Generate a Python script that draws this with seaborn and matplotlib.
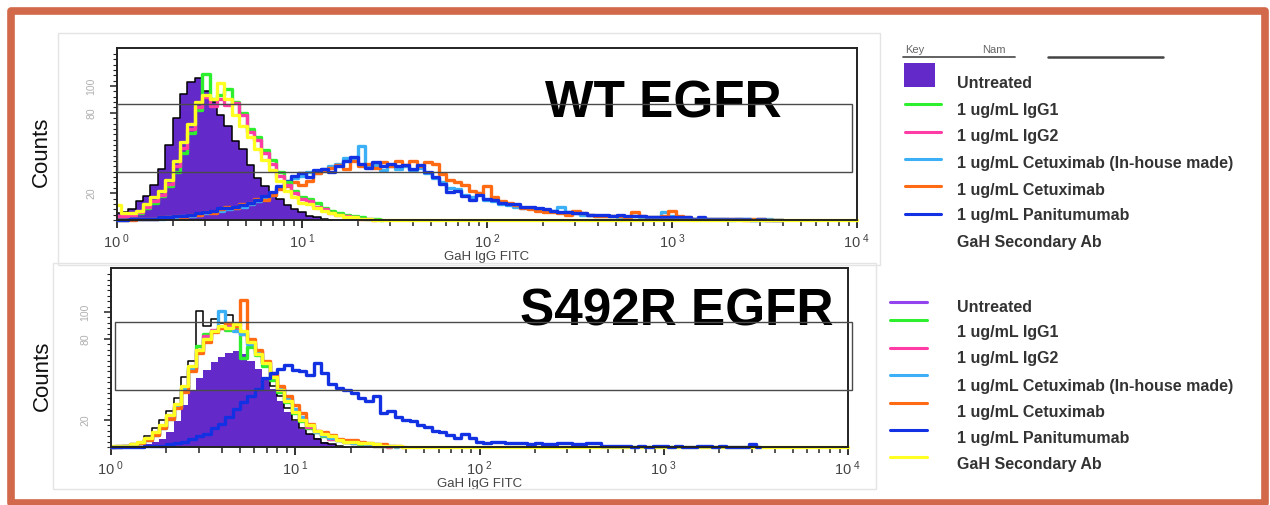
import numpy as np
import matplotlib
matplotlib.use("Agg")
import matplotlib.pyplot as plt
import seaborn as sns
from matplotlib.patches import Rectangle
from matplotlib.lines import Line2D
from matplotlib.ticker import FixedLocator, FixedFormatter, NullFormatter

# ---------------- data (counts per FITC channel, channels every 0.04 decade from 10^0) -------------
channel_step = 0.04
legend_labels = ["Untreated", "1 ug/mL IgG1", "1 ug/mL IgG2",
                 "1 ug/mL Cetuximab (In-house made)", "1 ug/mL Cetuximab",
                 "1 ug/mL Panitumumab", "GaH Secondary Ab"]
panel_titles = ["WT EGFR", "S492R EGFR"]
x_tick_labels = ["0", "1", "2", "3", "4"]
y_tick_values = [20, 80, 100]

# ----- WT EGFR panel -----
wt_untreated = [5, 6, 8, 14, 18, 26, 38, 56, 76, 94, 103, 106, 96, 88, 78, 70, 59, 53, 41, 31,
                25, 21, 16, 11, 8, 6, 3, 2, 1, 0]
wt_igg1 = [3, 3, 4, 5, 9, 13, 18, 25, 36, 50, 65, 82, 109, 90, 93, 98, 88, 80, 68, 62,
           52, 45, 36, 28, 22, 17, 16, 13, 9, 7, 5, 4, 3, 2, 1, 1, 0]
wt_igg2 = [3, 3, 4, 6, 10, 14, 19, 27, 40, 54, 68, 84, 92, 85, 90, 86, 87, 78, 66, 60,
           50, 42, 33, 26, 20, 16, 14, 10, 8, 5, 4, 3, 2, 1, 1, 0]
wt_cetux_inhouse = [0, 0, 1, 1, 1, 1, 1, 2, 2, 3,
                    3, 4, 5, 6, 7, 8, 9, 10, 12, 14,
                    16, 19, 24, 28, 31, 33, 36, 35, 38, 40,
                    42, 46, 46, 55, 40, 41, 37, 40, 38, 40,
                    37, 39, 35, 31, 28, 24, 23, 19, 17, 20,
                    15, 14, 12, 11, 10, 9, 9, 8, 7, 7,
                    10, 6, 5, 4, 4, 3, 3, 3, 2, 2,
                    3, 2, 2, 2, 6, 3, 2, 1, 1, 1,
                    1, 1, 1, 0, 1, 1, 0, 0, 1, 0, 0]
wt_cetux = [0, 0, 0, 1, 1, 1, 2, 2, 3, 2,
            4, 4, 6, 5, 8, 10, 9, 12, 13, 16,
            15, 19, 23, 25, 28, 26, 29, 35, 37, 39,
            41, 38, 44, 40, 42, 39, 43, 40, 44, 41,
            44, 40, 43, 42, 34, 30, 28, 26, 22, 20,
            25, 17, 14, 13, 11, 9, 8, 7, 6, 6,
            5, 4, 7, 5, 4, 3, 3, 3, 3, 2,
            6, 3, 2, 2, 3, 7, 3, 2, 1, 1,
            1, 1, 1, 1, 1, 0, 1, 1, 0, 0, 0]
wt_panitumumab = [0, 0, 1, 1, 1, 1, 2, 2, 3, 3,
                  4, 5, 6, 7, 9, 9, 10, 11, 13, 15,
                  18, 21, 25, 29, 33, 35, 32, 37, 38, 36,
                  40, 44, 47, 42, 39, 43, 40, 42, 40, 41,
                  38, 41, 36, 32, 27, 21, 22, 18, 15, 19,
                  16, 15, 13, 12, 12, 10, 10, 9, 8, 7,
                  6, 6, 5, 5, 4, 4, 4, 3, 4, 3,
                  3, 3, 2, 2, 2, 2, 2, 2, 1, 2,
                  1, 1, 1, 1, 1, 1, 0, 1, 0, 0, 0]
wt_secondary = [11, 5, 5, 7, 12, 17, 22, 30, 44, 58, 72, 88, 93, 90, 102, 90, 78, 70, 62, 53,
                45, 37, 29, 22, 17, 13, 12, 9, 7, 5, 4, 2, 2, 1, 1, 0, 0, 0, 0, 0,
                0, 0, 0, 0, 0, 0, 0, 0, 0, 0, 0, 0, 0, 0, 0, 0, 0, 0, 0, 0,
                0, 0, 0, 0, 0, 0, 0, 0, 0, 0, 0, 0, 0, 0, 0, 0, 0, 0, 0, 0,
                0, 0, 0, 0, 0, 0, 0, 0, 0, 0, 0, 0, 0, 0, 0, 0, 0, 0, 0, 0, 0]

# ----- S492R EGFR panel -----
mut_untreated = [0, 0, 0, 0, 1, 2, 4, 6, 11, 19, 31, 42, 51, 57, 63, 67, 70, 71, 69, 64,
                 58, 52, 43, 34, 26, 19, 13, 10, 7, 4, 2, 1, 0]
mut_outline = [0, 0, 0, 1, 3, 8, 14, 20, 27, 36, 52, 64, 101, 90, 95, 92, 98, 90, 85, 76,
               68, 61, 45, 38, 29, 20, 14, 10, 6, 3, 2, 1, 0]
mut_igg1 = [0, 1, 1, 2, 3, 6, 10, 15, 22, 30, 44, 59, 75, 84, 86, 89, 87, 88, 66, 74,
            68, 60, 50, 41, 33, 25, 19, 14, 11, 8, 6, 5, 4, 3, 2, 2, 1, 1, 0]
mut_igg2 = [0, 1, 1, 2, 3, 6, 10, 15, 22, 31, 44, 58, 72, 82, 87, 88, 90, 87, 84, 78,
            71, 63, 53, 44, 35, 27, 21, 15, 12, 9, 6, 5, 4, 3, 3, 2, 1, 1, 0]
mut_cetux_inhouse = [0, 0, 1, 1, 3, 5, 9, 14, 21, 30, 43, 58, 71, 80, 86, 101, 88, 86, 84, 76,
                     70, 62, 52, 43, 36, 28, 22, 16, 11, 9, 7, 5, 4, 3, 3, 2, 2, 1, 1, 0]
mut_cetux = [0, 0, 1, 1, 3, 5, 9, 14, 21, 29, 41, 56, 70, 78, 85, 88, 92, 90, 109, 80,
             72, 64, 55, 45, 38, 31, 25, 17, 12, 11, 9, 6, 5, 5, 4, 3, 2, 2, 1, 1, 0]
mut_panitumumab = [0, 0, 0, 0, 0, 1, 1, 1, 2, 3,
                   4, 6, 8, 10, 14, 17, 22, 28, 33, 38,
                   43, 51, 55, 58, 61, 57, 56, 53, 62, 55,
                   47, 44, 42, 40, 36, 34, 38, 25, 27, 22,
                   20, 19, 16, 15, 12, 11, 9, 7, 10, 7,
                   4, 3, 4, 4, 3, 3, 3, 2, 3, 2,
                   2, 3, 3, 2, 2, 3, 3, 1, 1, 1,
                   1, 0, 1, 0, 1, 1, 0, 1, 0, 0,
                   1, 1, 0, 1, 0, 0, 0, 2, 0]
mut_secondary = [1, 1, 1, 2, 4, 7, 11, 16, 24, 32, 45, 60, 72, 80, 86, 90, 88, 91, 86, 78,
                 69, 62, 52, 42, 34, 26, 20, 16, 12, 10, 8, 5, 4, 4, 3, 3, 2, 1, 1, 1,
                 0, 0, 0, 0, 0, 0, 0, 0, 0, 0, 0, 0, 0, 0, 0, 0, 0, 0, 0, 0,
                 0, 0, 0, 0, 0, 0, 0, 0, 0, 0, 0, 0, 0, 0, 0, 0, 0, 0, 0, 0,
                 0, 0, 0, 0, 0, 0, 0, 0, 0, 0, 0, 0, 0, 0, 0, 0, 0, 0, 0, 0, 0]

# ---------------- style ----------------
PURPLE = "#6429C9"
PURPLE_LINE = "#9444EE"
GREEN = "#2EEF2E"
PINK = "#FF3CA6"
CYAN = "#3BB0F7"
ORANGE = "#FF6A12"
BLUE = "#1131E2"
YELLOW = "#FFFF22"
BORDER = "#D2694B"
series_colors = [PURPLE, GREEN, PINK, CYAN, ORANGE, BLUE, YELLOW]

sns.set_theme(style="white")
plt.rcParams['font.family'] = ['Liberation Sans', 'DejaVu Sans']
plt.rcParams['mathtext.fontset'] = 'custom'
plt.rcParams['mathtext.rm'] = 'Liberation Sans'

W, H = 1270, 505
fig = plt.figure(figsize=(12.7, 5.05), dpi=100)
fig.patch.set_facecolor("white")


def fx(px):
    return px / W


def fy(py):
    return 1 - py / H


def channels(n):
    return 10 ** (np.arange(n) * channel_step)


def add_line(ax, vals, color, lw=2.4):
    xs = channels(len(vals))
    sns.lineplot(x=xs, y=vals, color=color, lw=lw, drawstyle="steps-mid",
                 estimator=None, sort=False, ax=ax, clip_on=False, legend=False)


def style_axes(ax, ymax):
    ax.set_xscale("log")
    ax.set_xlim(1, 1e4)
    ax.set_ylim(0, ymax)
    ax.set_facecolor("white")
    for s in ax.spines.values():
        s.set_visible(True)
        s.set_color("#222222")
        s.set_linewidth(1.4)
    ax.xaxis.set_major_locator(FixedLocator([1, 10, 100, 1000, 10000]))
    ax.xaxis.set_major_formatter(FixedFormatter(
        [r"$\mathregular{10^{\ %s}}$" % t for t in x_tick_labels]))
    minors = [m * 10 ** d for d in range(4) for m in range(2, 10)]
    ax.xaxis.set_minor_locator(FixedLocator(minors))
    ax.xaxis.set_minor_formatter(NullFormatter())
    ax.yaxis.set_major_locator(FixedLocator(y_tick_values))
    ax.yaxis.set_major_formatter(FixedFormatter([str(v) for v in y_tick_values]))
    ax.yaxis.set_minor_locator(FixedLocator(list(range(0, int(ymax), 4))))
    ax.tick_params(axis="x", which="major", direction="out", length=6, width=1.3,
                   colors="#222222", labelcolor="#444444", labelsize=10.5, pad=3,
                   bottom=True)
    ax.tick_params(axis="x", which="minor", direction="out", length=4, width=1.1,
                   colors="#222222", bottom=True)
    ax.tick_params(axis="y", which="major", direction="out", length=5, width=1.1,
                   colors="#222222", labelcolor="#b0b0b0", labelsize=7.5, pad=10, left=True)
    ax.tick_params(axis="y", which="minor", direction="out", length=3, width=0.8,
                   colors="#222222", left=True)
    for lab in ax.get_yticklabels():
        lab.set_rotation(90)
        lab.set_va("center")
    ax.set_xlabel("GaH IgG FITC", fontsize=9.5, color="#444444", labelpad=0)
    ax.set_ylabel("")
    ax.grid(False)


def draw_panel(ax, fill, outline, lines, ymax):
    ax.fill_between(channels(len(fill)), fill, step="mid", color=PURPLE, lw=0, zorder=1)
    add_line(ax, outline, "black", lw=1.1)
    for vals, color in lines:
        add_line(ax, vals, color)
    style_axes(ax, ymax)


# faint outlines of the pasted panels
for (l, t, r, b) in [(58, 33, 880, 265), (53, 263, 876, 489)]:
    fig.add_artist(Rectangle((fx(l), fy(b)), (r - l) / W, (b - t) / H, transform=fig.transFigure,
                             fill=False, ec="#e4e4e4", lw=1.0))

# top panel
ax1 = fig.add_axes([fx(117), fy(220), (857 - 117) / W, (220 - 48) / H])
draw_panel(ax1, wt_untreated, wt_untreated,
           [(wt_cetux_inhouse, CYAN), (wt_cetux, ORANGE), (wt_panitumumab, BLUE),
            (wt_igg1, GREEN), (wt_igg2, PINK), (wt_secondary, YELLOW)],
           (220 - 48) / 1.34)

# bottom panel
ax2 = fig.add_axes([fx(111), fy(447), (848 - 111) / W, (447 - 268) / H])
draw_panel(ax2, mut_untreated, mut_outline,
           [(mut_igg1, GREEN), (mut_igg2, PINK), (mut_cetux_inhouse, CYAN),
            (mut_cetux, ORANGE), (mut_secondary, YELLOW), (mut_panitumumab, BLUE)],
           (447 - 268) / 1.35)

# gate rectangles
for (l, t, r, b) in [(117, 104, 852, 172), (115, 322, 852, 390)]:
    fig.add_artist(Rectangle((fx(l), fy(b)), (r - l) / W, (b - t) / H, transform=fig.transFigure,
                             fill=False, ec="#4a4a4a", lw=1.0, zorder=5))

# panel titles
fig.text(fx(545), fy(117), panel_titles[0], fontsize=37, fontweight="bold", color="black",
         ha="left", va="baseline")
fig.text(fx(520), fy(325), panel_titles[1], fontsize=37, fontweight="bold", color="black",
         ha="left", va="baseline")

# y labels
fig.text(fx(41), fy(152), "Counts", rotation=90, ha="center", va="center", fontsize=16,
         color="#111111")
fig.text(fx(42), fy(376), "Counts", rotation=90, ha="center", va="center", fontsize=16,
         color="#111111")

# ---------------- legends ----------------
# top key
fig.text(fx(905), fy(50), "Key", fontsize=8, color="#666666", ha="left", va="center")
fig.text(fx(982), fy(50), "Nam", fontsize=8, color="#666666", ha="left", va="center")
fig.add_artist(Line2D([fx(903), fx(1015)], [fy(57), fy(57)], color="#555555", lw=1.3,
                      transform=fig.transFigure))
fig.add_artist(Line2D([fx(1048), fx(1163)], [fy(57), fy(57)], color="#444444", lw=1.8,
                      transform=fig.transFigure))
fig.add_artist(Rectangle((fx(904), fy(87)), 31 / W, 24 / H, transform=fig.transFigure,
                         color=PURPLE, lw=0))
top_line_y = [None, 104, 132, 159, 186, 214, None]
top_text_y = [84, 111, 137, 163, 190, 216, 243]
for lab, col, ly, ty in zip(legend_labels, series_colors, top_line_y, top_text_y):
    if ly is not None:
        fig.add_artist(Line2D([fx(905), fx(941)], [fy(ly), fy(ly)], color=col, lw=2.2,
                              transform=fig.transFigure))
    fig.text(fx(957), fy(ty), lab, fontsize=11.5, fontweight="bold", color="#333333",
             ha="left", va="center")

# bottom key
bot_line_y = [302, 320, 348, 375, 403, 430, 457]
bot_text_y = [307, 333, 359, 386, 412, 439, 465]
bot_colors = [PURPLE_LINE] + series_colors[1:]
for lab, col, ly, ty in zip(legend_labels, bot_colors, bot_line_y, bot_text_y):
    fig.add_artist(Line2D([fx(890), fx(927)], [fy(ly), fy(ly)], color=col, lw=2.2,
                          transform=fig.transFigure))
    fig.text(fx(957), fy(ty), lab, fontsize=11.5, fontweight="bold", color="#333333",
             ha="left", va="center")

# orange frame
fig.add_artist(Rectangle((fx(11), fy(503)), (1265 - 11) / W, (503 - 11) / H,
                         transform=fig.transFigure, fill=False, ec=BORDER, lw=5.5,
                         joinstyle="round"))

fig.savefig("out.png", dpi=100, facecolor="white")
